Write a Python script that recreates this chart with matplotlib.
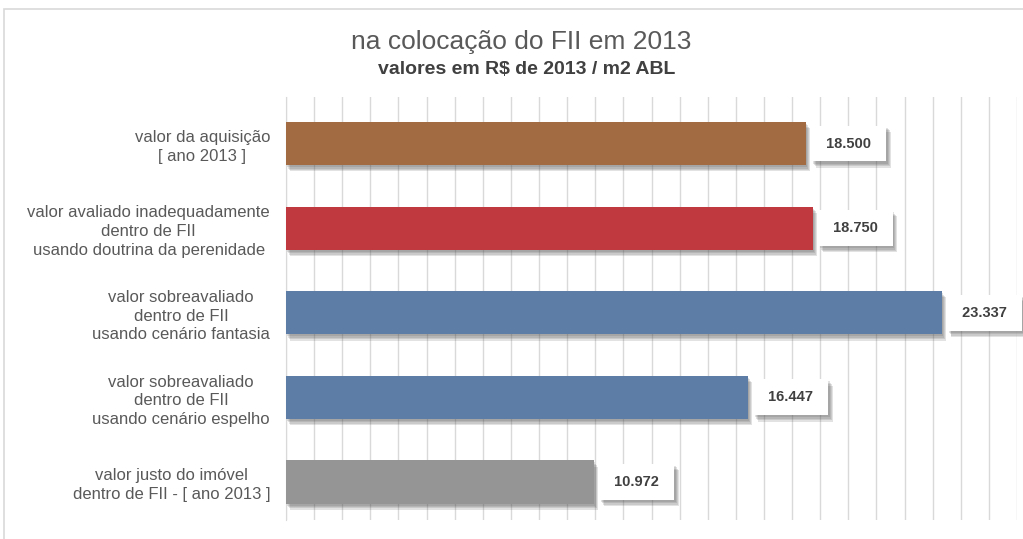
import matplotlib.pyplot as plt
import matplotlib.patheffects as pe
from matplotlib.patches import Rectangle

plt.rcParams['font.family'] = ['Liberation Sans', 'DejaVu Sans']

# categorias, de baixo para cima
categorias = [
    'valor justo do imóvel\ndentro de FII - [ ano 2013 ]',
    'valor sobreavaliado\ndentro de FII\nusando cenário espelho',
    'valor sobreavaliado\ndentro de FII\nusando cenário fantasia',
    'valor avaliado inadequadamente\ndentro de FII\nusando doutrina da perenidade',
    'valor da aquisição\n[ ano 2013 ]',
]
valores = [10972, 16447, 23337, 18750, 18500]
rotulos = ['10.972', '16.447', '23.337', '18.750', '18.500']
cores = ['#959595', '#5D7CA6', '#5D7CA6', '#C0393F', '#A26B42']


def sombra_suave(dx, dy):
    # sombra difusa feita de várias camadas fracas
    camadas = [pe.SimplePatchShadow(offset=(dx + k * 0.7, dy - k), shadow_rgbFace='#505050', alpha=0.16)
               for k in range(4)]
    return camadas + [pe.Normal()]


fig = plt.figure(figsize=(10.23, 5.39), dpi=100)
fig.patches.append(Rectangle((4 / 1023, -0.1), 1.2, 1 - 9 / 539 + 0.1,
                             transform=fig.transFigure, fill=False,
                             edgecolor='#D9D9D9', linewidth=1.2))

ax = fig.add_axes([286 / 1023, 19 / 539, 731 / 1023, 423 / 539])
pos = list(range(len(valores)))

barras = ax.barh(pos, valores, height=0.51, color=cores, zorder=3)
for b in barras:
    b.set_path_effects(sombra_suave(0.5, -1.5))

for y, v, txt in zip(pos, valores, rotulos):
    t = ax.annotate(' ' + txt + ' ', (v, y), xytext=(16, 0), textcoords='offset pixels',
                    ha='left', va='center', fontsize=10.5, fontweight='bold',
                    color='#404040', zorder=4,
                    bbox=dict(boxstyle='square,pad=0.75', fc='white', ec='none'))
    t.get_bbox_patch().set_path_effects(sombra_suave(1, -1.5))

ax.set_xlim(0, 26000)
ax.set_ylim(-0.45, 4.55)
ax.set_xticks(range(0, 26001, 1000))
ax.xaxis.grid(True, color='#D9D9D9', linewidth=1, zorder=0)
ax.tick_params(axis='x', length=0, labelbottom=False)
ax.set_yticks(pos)
ax.set_yticklabels(categorias, fontsize=12, color='#595959', multialignment='center',
                   linespacing=1.3)
ax.tick_params(axis='y', length=0, pad=11.5)
for s in ['top', 'right', 'bottom']:
    ax.spines[s].set_visible(False)
ax.spines['left'].set_color('#D9D9D9')

fig.text(521 / 1023, 1 - 42 / 539, 'na colocação do FII em 2013', ha='center', va='center',
         fontsize=19, color='#595959')
fig.text(527 / 1023, 1 - 70 / 539, 'valores em R$ de 2013 / m2 ABL', ha='center', va='center',
         fontsize=14, fontweight='bold', color='#404040')

fig.savefig('out.png', dpi=100)
